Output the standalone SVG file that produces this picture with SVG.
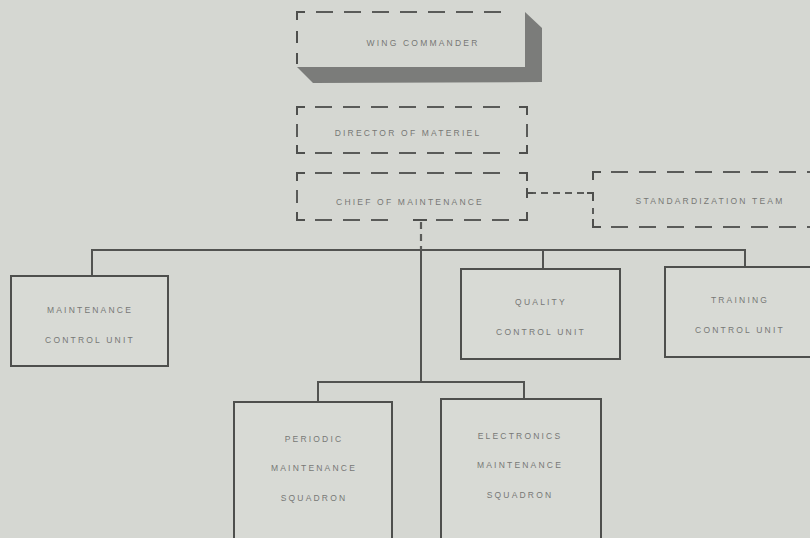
<svg xmlns="http://www.w3.org/2000/svg" width="810" height="538" viewBox="0 0 810 538">
<style>
.bg{fill:#d5d7d2}
.ln{fill:none;stroke:#4e4f4d;stroke-width:2}
.cn{fill:none;stroke:#525351;stroke-width:2}
.ds{fill:none;stroke:#5a5b59;stroke-width:2;stroke-dasharray:17 11}
.sd{fill:none;stroke:#5a5b59;stroke-width:2.2;stroke-dasharray:7 5}
.bx{fill:#d8dad5;stroke:#4e4f4d;stroke-width:2}
.t{font-family:"Liberation Sans",Arial,sans-serif;font-size:8.5px;letter-spacing:2.2px;fill:#777875;text-anchor:middle}
</style>
<rect class="bg" x="0" y="0" width="810" height="538"/>
<g id="connectors">
<path class="cn" d="M92,276V250H745V267 M543,250V269 M421,250V382 M318,402V382H524V400"/>
<path class="sd" d="M421,222V250"/>
<path class="ln" d="M413,220H427"/>
<path class="sd" d="M529,193H589"/>
<path class="ln" d="M527,193H533 M587,193H593V201"/>
</g>
<g id="wing-commander">
<polygon points="525,12 542,28 542,82 313,83 297,67 525,67" fill="#7b7c7a"/>
<path class="ln" d="M297,20V12H305 M297,31V43 M297,53V64"/>
<path class="ds" d="M316,12H501"/>
<text class="t" x="423" y="46">WING COMMANDER</text>
</g>
<g id="director-of-materiel">
<path class="ln" d="M297,115V107H305 M519,107H527V115 M527,145V153H519 M305,153H297V145"/>
<path class="ds" d="M315,107H500 M315,153H500 M297,124V137 M527,124V137"/>
<text class="t" x="408" y="136">DIRECTOR OF MATERIEL</text>
</g>
<g id="chief-of-maintenance">
<path class="ln" d="M297,181V173H305 M519,173H527V181 M527,212V220H519 M305,220H297V212 M527,188V198"/>
<path class="ds" d="M315,173H500 M297,190V203 M315,220H388 M436,220H509"/>
<text class="t" x="410" y="205">CHIEF OF MAINTENANCE</text>
</g>
<g id="standardization-team">
<path class="ln" d="M593,180V172H601 M593,219V227H601"/>
<path class="ds" d="M611,172H812 M611,227H812 M593,208V214"/>
<text class="t" x="710" y="204">STANDARDIZATION TEAM</text>
</g>
<g id="maintenance-control-unit">
<rect class="bx" x="11" y="276" width="157" height="90"/>
<text class="t" x="90" y="313">MAINTENANCE</text>
<text class="t" x="90" y="343">CONTROL UNIT</text>
</g>
<g id="quality-control-unit">
<rect class="bx" x="461" y="269" width="159" height="90"/>
<text class="t" x="541" y="305">QUALITY</text>
<text class="t" x="541" y="335">CONTROL UNIT</text>
</g>
<g id="training-control-unit">
<rect class="bx" x="665" y="267" width="160" height="90"/>
<text class="t" x="740" y="303">TRAINING</text>
<text class="t" x="740" y="333">CONTROL UNIT</text>
</g>
<g id="periodic-maintenance-squadron">
<rect class="bx" x="234" y="402" width="158" height="150"/>
<text class="t" x="314" y="442">PERIODIC</text>
<text class="t" x="314" y="471">MAINTENANCE</text>
<text class="t" x="314" y="501">SQUADRON</text>
</g>
<g id="electronics-maintenance-squadron">
<rect class="bx" x="441" y="399" width="160" height="150"/>
<text class="t" x="520" y="439">ELECTRONICS</text>
<text class="t" x="520" y="468">MAINTENANCE</text>
<text class="t" x="520" y="498">SQUADRON</text>
</g>
</svg>
